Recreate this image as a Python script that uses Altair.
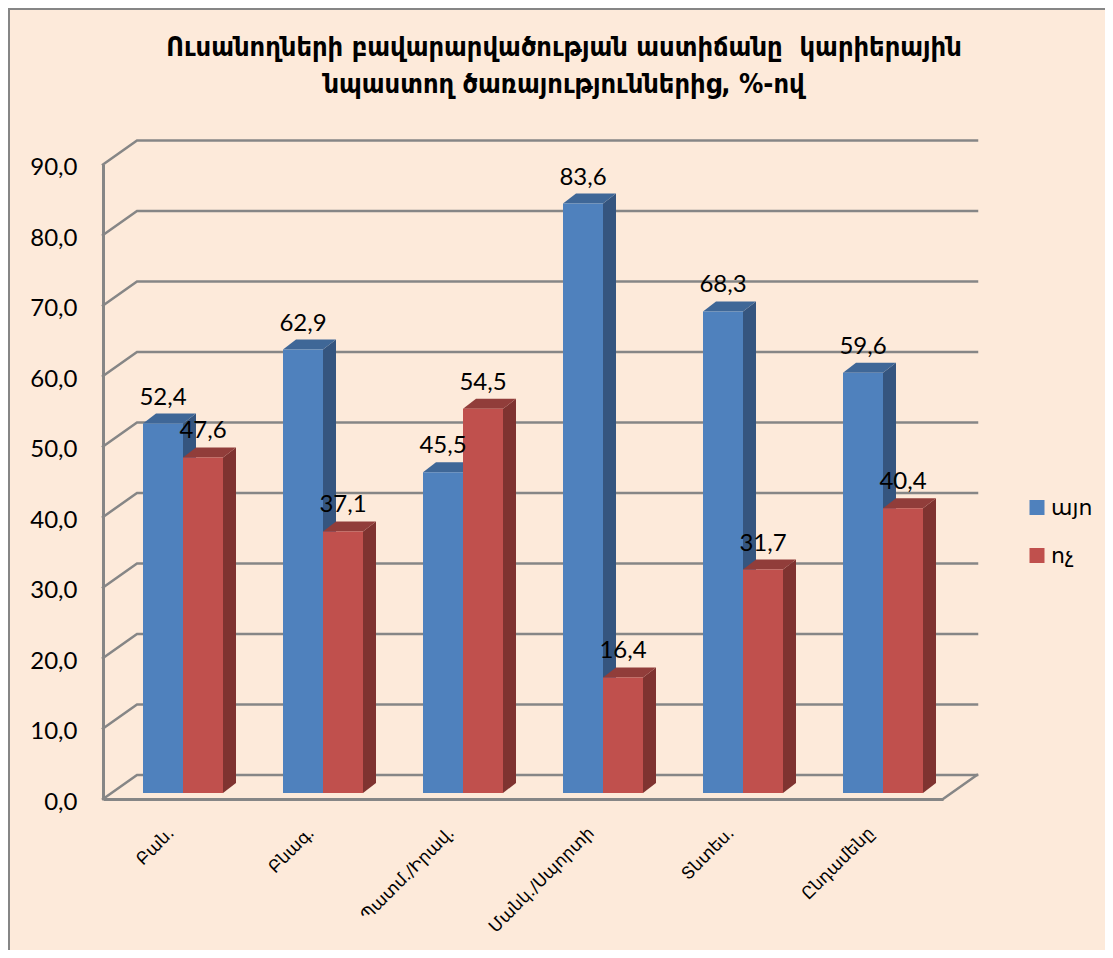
import altair as alt
import pandas as pd

categories = ["Բան.", "Բնագ.", "Պատմ./Իրավ.", "Մանկ./Սպորտի", "Տնտես.", "Ընդամենը"]
yes_values = [52.4, 62.9, 45.5, 83.6, 68.3, 59.6]
no_values = [47.6, 37.1, 54.5, 16.4, 31.7, 40.4]
series_names = ["այո", "ոչ"]
title_lines = ["Ուսանողների բավարարվածության աստիճանը\u00a0 կարիերային",
               "նպաստող ծառայություններից, %-ով"]
y_ticks = [0, 10, 20, 30, 40, 50, 60, 70, 80, 90]

# page geometry
PX_GROUP = 140.0
PX_UNIT = 7.05
W, H = 840, 634.5
BACK_X, BACK_Y = 34 / PX_GROUP, 24 / PX_UNIT
DEPTH_X, DEPTH_Y = 13 / PX_GROUP, 10 / PX_UNIT
BASE = 6 / PX_UNIT
BAR_W = 40 / PX_GROUP
BAR_START = 40 / PX_GROUP

front_cols = ["#4F81BD", "#C0504D"]
side_cols = ["#35557F", "#7F3330"]
top_cols = ["#3F6797", "#913D3A"]
GRID = "#868686"
BG = "#FDEADA"

xs = alt.Scale(domain=[0, 6], nice=False, zero=False)
ys = alt.Scale(domain=[0, 90], nice=False, zero=False)
x_axis = alt.Axis(
    values=[k + 0.5 for k in range(6)], grid=False, ticks=False, title=None,
    domainColor=GRID, domainWidth=3,
    labelExpr="[" + ",".join(f"'{c}'" for c in categories) + "][floor(datum.value)]",
    labelAngle=-45, labelAlign="right", labelBaseline="middle", labelPadding=31, labelOffset=-2,
    labelFont="DejaVu Sans", labelFontSize=17, labelColor="#000000",
    labelOverlap=False, labelBound=False, labelFlush=False)
y_axis = alt.Axis(
    values=y_ticks, grid=False, ticks=False, title=None, domainColor=GRID, domainWidth=3,
    labelExpr="replace(format(datum.value,'.1f'),'.',',')",
    labelFont="Lato", labelFontSize=24, labelColor="#000000", labelPadding=26, labelOffset=3,
    labelOverlap=False, labelBound=False, labelFlush=False)
X = lambda f: alt.X(f, type="quantitative", scale=xs, axis=x_axis)
Y = lambda f: alt.Y(f, type="quantitative", scale=ys, axis=y_axis)

front, side, topf = [], [], []
for s, (name, vals) in enumerate(zip(series_names, [yes_values, no_values])):
    for k, (c, v) in enumerate(zip(categories, vals)):
        x0 = k + BAR_START + s * BAR_W
        x1 = x0 + BAR_W
        t = v + BASE
        front.append(dict(series=name, cat=c, x0=x0, x1=x1, y0=BASE, y1=t, xc=(x0 + x1) / 2,
                          label=f"{v:.1f}".replace(".", ",")))
        side.append(dict(series=name, cat=c, x=x1, y0=BASE, y1=t))
        side.append(dict(series=name, cat=c, x=x1 + DEPTH_X, y0=BASE + DEPTH_Y, y1=t + DEPTH_Y))
        topf.append(dict(series=name, cat=c, y=t, x0=x0, x1=x1))
        topf.append(dict(series=name, cat=c, y=t + DEPTH_Y, x0=x0 + DEPTH_X, x1=x1 + DEPTH_X))
front, side, topf = pd.DataFrame(front), pd.DataFrame(side), pd.DataFrame(topf)

grid = []
for v in y_ticks:
    grid.append(dict(g=f"l{v}", x=0, y=v))
    grid.append(dict(g=f"l{v}", x=BACK_X, y=v + BACK_Y))
    grid.append(dict(g=f"l{v}", x=6 + BACK_X, y=v + BACK_Y))
grid.append(dict(g="floor", x=6, y=0))
grid.append(dict(g="floor", x=6 + BACK_X, y=BACK_Y))
grid = pd.DataFrame(grid)

axis_layer = alt.Chart(grid).mark_line(color=GRID, strokeWidth=2.5, strokeCap="square").encode(
    x=X("x"), y=Y("y"), detail="g:N")

frame = pd.DataFrame({"a": [0]})
border_l = alt.Chart(frame).mark_rule(color=GRID, strokeWidth=2).encode(
    x=alt.value(-94), y=alt.value(-157), y2=alt.value(800))
border_t = alt.Chart(frame).mark_rule(color=GRID, strokeWidth=2).encode(
    y=alt.value(-155.5), x=alt.value(-95), x2=alt.value(1010))

layers = [border_l, border_t, axis_layer]
for s, name in enumerate(series_names):
    sd = side[side.series == name]
    td = topf[topf.series == name]
    fd = front[front.series == name]
    layers.append(alt.Chart(sd).mark_area(orient="vertical", color=side_cols[s], opacity=1).encode(
        x=X("x"), y=Y("y1"), y2="y0:Q", detail="cat:N"))
    layers.append(alt.Chart(td).mark_area(orient="horizontal", color=top_cols[s], opacity=1).encode(
        y=Y("y"), x=X("x0"), x2="x1:Q", detail="cat:N"))
    layers.append(alt.Chart(fd).mark_rect(opacity=1).encode(
        x=X("x0"), x2="x1:Q", y=Y("y1"), y2="y0:Q",
        color=alt.Color("series:N", scale=alt.Scale(domain=series_names, range=front_cols), title=None,
                        legend=alt.Legend(orient="none", legendX=923, legendY=332, symbolType="square",
                                          symbolSize=225, symbolStrokeWidth=0, symbolOpacity=1,
                                          labelFont="DejaVu Sans", labelFontSize=22, labelColor="#000000",
                                          rowPadding=26, labelOffset=3, title=None))))

labels = alt.Chart(front).mark_text(font="Lato", fontSize=24, color="#000000", baseline="middle", dy=-26).encode(
    x=X("xc"), y=Y("y1"), text="label:N")
layers.append(labels)

for line, py in zip(title_lines, [48 - 164.5, 85 - 164.5]):
    layers.append(alt.Chart(pd.DataFrame({"t": [line]})).mark_text(
        font="DejaVu Sans Condensed", fontWeight="bold", fontSize=27, color="#000000",
        align="center", baseline="middle").encode(
        x=alt.value(564 - 103), y=alt.value(py), text="t:N"))

chart = alt.layer(*layers).properties(
    width=W, height=H,
    padding={"left": 95, "top": 156.5, "right": 162, "bottom": 151},
    autosize=alt.AutoSizeParams(type="none"),
    background=BG,
).configure_view(stroke=None)

chart.save("out.html", embed_options={"renderer": "svg", "actions": False})
